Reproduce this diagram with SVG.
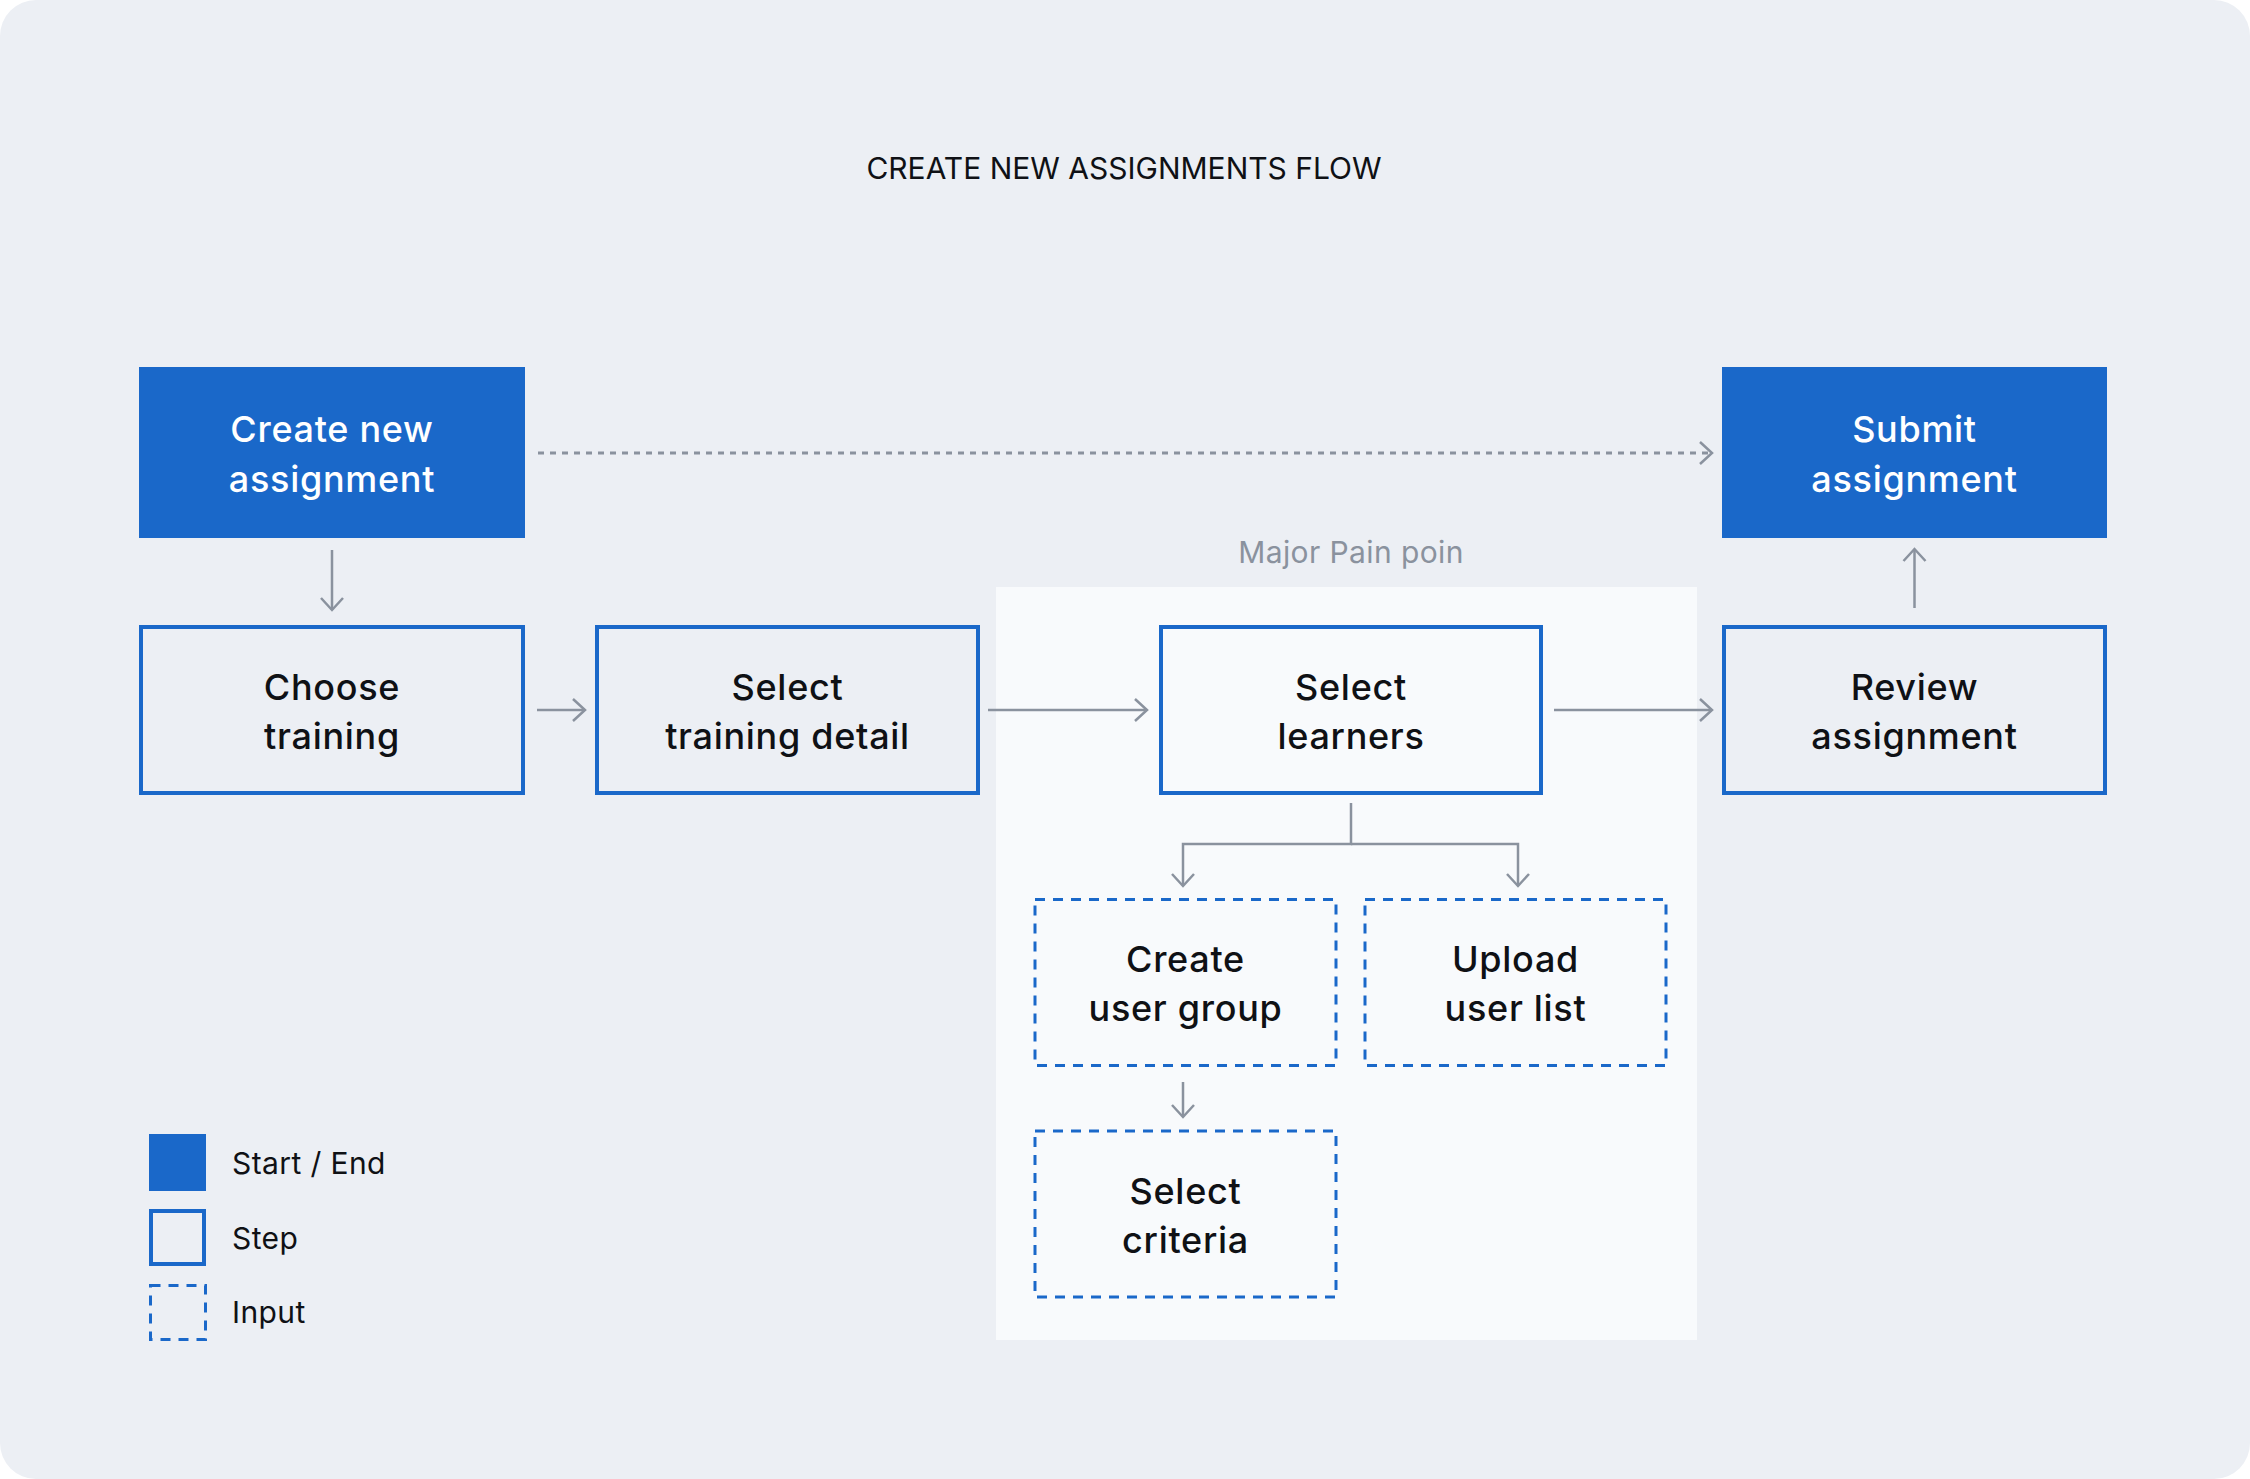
<svg xmlns="http://www.w3.org/2000/svg" width="2250" height="1479" viewBox="0 0 2250 1479">
<defs>
<style>
.bg{fill:#eceff4}
.pain{fill:#f8fafc}
.start{fill:#1a68c9}
.step{fill:none;stroke:#1a68c9;stroke-width:4}
.input{fill:none;stroke:#1a68c9;stroke-width:3;stroke-dasharray:10 8}
.conn{fill:none;stroke:#8a929e;stroke-width:2.5}
.dot{fill:none;stroke:#8a929e;stroke-width:3;stroke-dasharray:6 6}
.t{font-family:Inter,"Noto Sans","Liberation Sans",sans-serif;font-size:36px;font-weight:500;letter-spacing:0.7px;fill:#0f1115;text-anchor:middle}
.tw{fill:#ffffff}
.title{font-family:Inter,"Noto Sans","Liberation Sans",sans-serif;font-size:30px;font-weight:400;fill:#0f1115;text-anchor:middle}
.lg{font-family:Inter,"Noto Sans","Liberation Sans",sans-serif;font-size:30px;font-weight:400;letter-spacing:0.4px;fill:#0f1115}
.pl{font-family:Inter,"Noto Sans","Liberation Sans",sans-serif;font-size:30px;font-weight:400;letter-spacing:0.4px;fill:#8a929e;text-anchor:middle}
</style>
<marker id="ah" markerUnits="userSpaceOnUse" viewBox="-14 -13 16 26" refX="0" refY="0" markerWidth="16" markerHeight="26" orient="auto">
<path d="M-12,-11 L0,0 L-12,11" fill="none" stroke="#8a929e" stroke-width="2.5"/>
</marker>
</defs>
<rect class="bg" x="0" y="0" width="2250" height="1479" rx="36"/>
<text class="title" x="1124" y="179">CREATE NEW ASSIGNMENTS FLOW</text>
<g id="pain-area">
<rect class="pain" x="996" y="587" width="701" height="753"/>
<text class="pl" x="1351" y="563">Major Pain poin</text>
</g>
<g id="connectors">
<line class="conn" x1="332" y1="550" x2="332" y2="610" marker-end="url(#ah)"/>
<line class="conn" x1="537" y1="710" x2="585" y2="710" marker-end="url(#ah)"/>
<line class="conn" x1="988" y1="710" x2="1147" y2="710" marker-end="url(#ah)"/>
<line class="conn" x1="1554" y1="710" x2="1712" y2="710" marker-end="url(#ah)"/>
<line class="conn" x1="1914.5" y1="608" x2="1914.5" y2="549" marker-end="url(#ah)"/>
<line class="dot" x1="538" y1="453" x2="1712" y2="453" marker-end="url(#ah)"/>
<path class="conn" d="M1351,803 V844 H1183 V886" marker-end="url(#ah)"/>
<path class="conn" d="M1351,844 H1518 V886" marker-end="url(#ah)"/>
<line class="conn" x1="1183" y1="1082" x2="1183" y2="1117" marker-end="url(#ah)"/>
</g>
<g id="create-new-assignment">
<rect class="start" x="139" y="367" width="386" height="171"/>
<text class="t tw" x="332" y="442">Create new</text>
<text class="t tw" x="332" y="492">assignment</text>
</g>
<g id="submit-assignment">
<rect class="start" x="1722" y="367" width="385" height="171"/>
<text class="t tw" x="1914.5" y="442">Submit</text>
<text class="t tw" x="1914.5" y="492">assignment</text>
</g>
<g id="choose-training">
<rect class="step" x="141" y="627" width="382" height="166"/>
<text class="t" x="332" y="700">Choose</text>
<text class="t" x="332" y="749">training</text>
</g>
<g id="select-training-detail">
<rect class="step" x="597" y="627" width="381" height="166"/>
<text class="t" x="787.5" y="700">Select</text>
<text class="t" x="787.5" y="749">training detail</text>
</g>
<g id="select-learners">
<rect class="step" x="1161" y="627" width="380" height="166"/>
<text class="t" x="1351" y="700">Select</text>
<text class="t" x="1351" y="749">learners</text>
</g>
<g id="review-assignment">
<rect class="step" x="1724" y="627" width="381" height="166"/>
<text class="t" x="1914.5" y="700">Review</text>
<text class="t" x="1914.5" y="749">assignment</text>
</g>
<g id="create-user-group">
<rect class="input" x="1035" y="899.5" width="301" height="166"/>
<text class="t" x="1185.5" y="972">Create</text>
<text class="t" x="1185.5" y="1021">user group</text>
</g>
<g id="upload-user-list">
<rect class="input" x="1365" y="899.5" width="301" height="166"/>
<text class="t" x="1515.5" y="972">Upload</text>
<text class="t" x="1515.5" y="1021">user list</text>
</g>
<g id="select-criteria">
<rect class="input" x="1035" y="1131" width="301" height="166"/>
<text class="t" x="1185.5" y="1204">Select</text>
<text class="t" x="1185.5" y="1253">criteria</text>
</g>
<g id="legend">
<rect class="start" x="149" y="1134" width="57" height="57"/>
<text class="lg" x="232" y="1174">Start / End</text>
<rect class="step" x="151" y="1211" width="53" height="53"/>
<text class="lg" x="232" y="1249">Step</text>
<rect class="input" x="150.5" y="1285.5" width="55" height="54" stroke-dasharray="8 7"/>
<text class="lg" x="232" y="1323">Input</text>
</g>
</svg>
